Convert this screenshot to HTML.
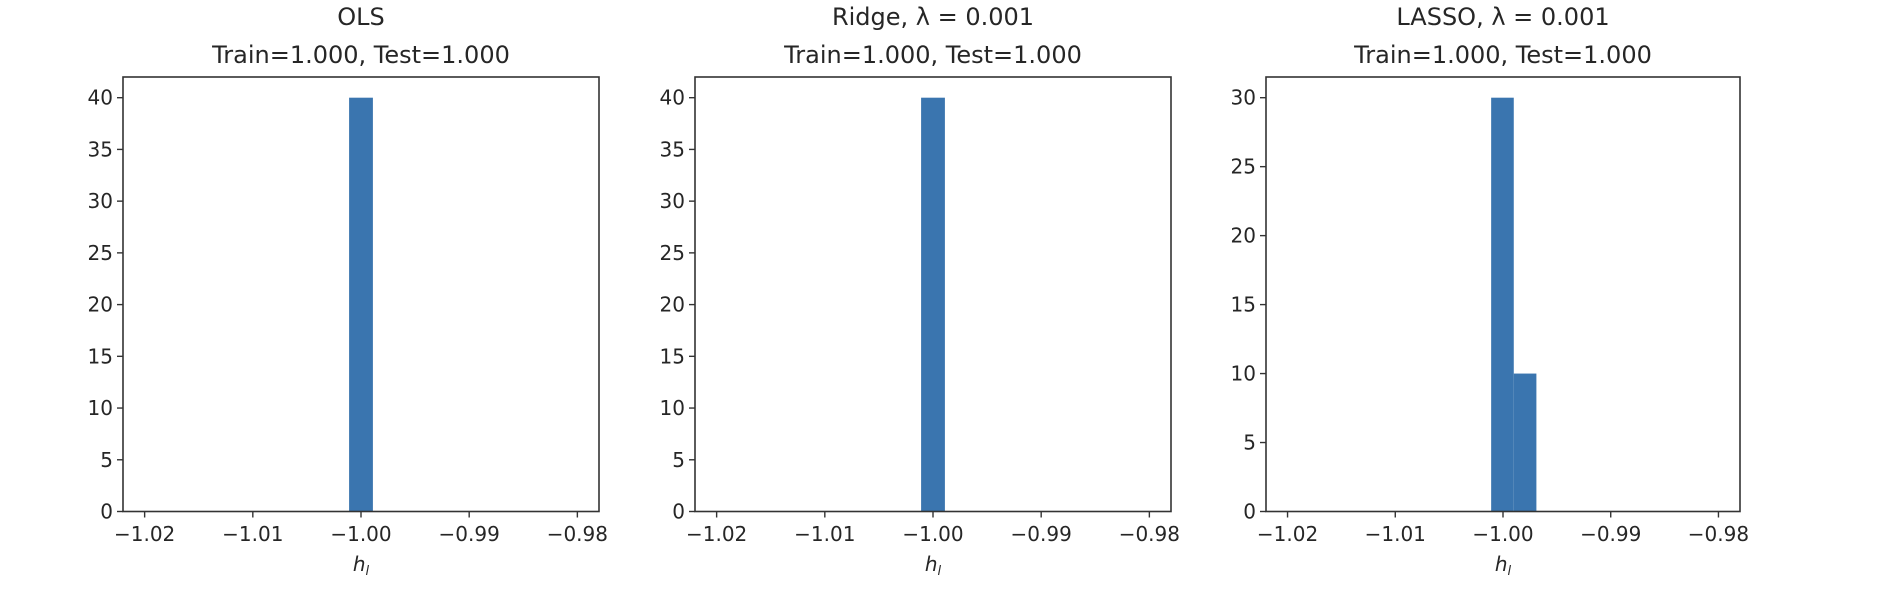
<!DOCTYPE html>
<html><head><meta charset="utf-8"><style>
html,body{margin:0;padding:0;background:#fff;}
svg{display:block;font-family:"DejaVu Sans","Liberation Sans",sans-serif;}
</style></head><body>
<svg id="fig" width="1904" height="602" viewBox="0 0 1904 602" xmlns="http://www.w3.org/2000/svg"></svg>
<script>
// data
const titles1 = ["OLS", "Ridge, λ = 0.001", "LASSO, λ = 0.001"];
const titles2 = ["Train=1.000, Test=1.000", "Train=1.000, Test=1.000", "Train=1.000, Test=1.000"];
const xTicks = [-1.02, -1.01, -1.00, -0.99, -0.98];
const xTickLabels = ["−1.02", "−1.01", "−1.00", "−0.99", "−0.98"];
const olsBinEdges = [-1.0011, -0.9989];
const olsCounts = [40];
const ridgeBinEdges = [-1.0011, -0.9989];
const ridgeCounts = [40];
const lassoBinEdges = [-1.0011, -0.9990, -0.9969];
const lassoCounts = [30, 10];
const yTicksA = [0, 5, 10, 15, 20, 25, 30, 35, 40];
const yTicksB = [0, 5, 10, 15, 20, 25, 30];
const yMaxes = [42, 42, 31.5];

const NS = "http://www.w3.org/2000/svg";
const svg = document.getElementById('fig');
function mk(tag, attrs, parent){const e=document.createElementNS(NS,tag);for(const k in attrs)e.setAttribute(k,attrs[k]);(parent||svg).appendChild(e);return e;}

const panels = [
  {left:123, right:599, edges:olsBinEdges, counts:olsCounts, yt:yTicksA, name:'ols'},
  {left:695, right:1171, edges:ridgeBinEdges, counts:ridgeCounts, yt:yTicksA, name:'ridge'},
  {left:1266, right:1740, edges:lassoBinEdges, counts:lassoCounts, yt:yTicksB, name:'lasso'}
];
const axTop = 77, axBottom = 511.5, xmin = -1.022, xmax = -0.978;

panels.forEach((p, i) => {
  const g = mk('g', {});
  
  
  const xs = v => p.left + (v - xmin) / (xmax - xmin) * (p.right - p.left);
  const ys = v => axBottom - v / yMaxes[i] * (axBottom - axTop);
  p.counts.forEach((c, j) => {
    const x0 = xs(p.edges[j]), x1 = xs(p.edges[j+1]);
    const r = mk('rect', {x:x0, y:ys(c), width:x1-x0, height:axBottom-ys(c), fill:'#3a75af'}, g);
    
    
  });
  const fr = mk('rect', {x:p.left, y:axTop, width:p.right-p.left, height:axBottom-axTop, fill:'none', stroke:'#333', 'stroke-width':1.6}, g);
  
  
  xTicks.forEach((t, k) => {
    const x = xs(t);
    mk('line', {x1:x, x2:x, y1:axBottom, y2:axBottom+6, stroke:'#333', 'stroke-width':1.4}, g);
    const tx = mk('text', {x:x, y:541, 'font-size':20, fill:'#262626', 'text-anchor':'middle'}, g);
    tx.textContent = xTickLabels[k];
    
    
  });
  p.yt.forEach(t => {
    const y = ys(t);
    mk('line', {x1:p.left-6, x2:p.left, y1:y, y2:y, stroke:'#333', 'stroke-width':1.4}, g);
    const tx = mk('text', {x:p.left-10, y:y+7, 'font-size':20, fill:'#262626', 'text-anchor':'end'}, g);
    tx.textContent = String(t);
    
    
  });
  const cx = (p.left + p.right) / 2;
  const t1 = mk('text', {x:cx, y:25, 'font-size':24, fill:'#262626', 'text-anchor':'middle'}, g);
  t1.textContent = titles1[i];
  
  
  const t2 = mk('text', {x:cx, y:63, 'font-size':24, fill:'#262626', 'text-anchor':'middle'}, g);
  t2.textContent = titles2[i];
  
  
  const xl = mk('text', {x:cx, y:571, 'font-size':20, fill:'#262626', 'text-anchor':'middle', 'font-style':'italic'}, g);
  xl.textContent = 'h';
  const sub = mk('tspan', {'font-size':13, dy:4}, xl);
  sub.textContent = 'l';
  
  
});
</script>
</body></html>
